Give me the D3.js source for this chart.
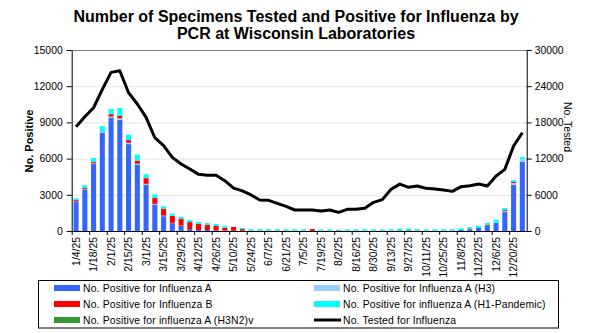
<!DOCTYPE html>
<html>
<head>
<meta charset="utf-8">
<script src="https://cdn.jsdelivr.net/npm/d3@7"></script>
<style>
  body { margin: 0; background: #fff; }
  svg { display: block; font-family: Arial, "Liberation Sans", sans-serif; }
</style>
</head>
<body>
<div id="chart"></div>
<script>
// Weekly flu specimens (Wisconsin labs, PCR): stacked positives + total tested line

const weeks = [
  "1/4/25", "1/11/25", "1/18/25", "1/25/25", "2/1/25", "2/8/25", "2/15/25", "2/22/25",
  "3/1/25", "3/8/25", "3/15/25", "3/22/25", "3/29/25", "4/5/25", "4/12/25", "4/19/25",
  "4/26/25", "5/3/25", "5/10/25", "5/17/25", "5/24/25", "5/31/25", "6/7/25", "6/14/25",
  "6/21/25", "6/28/25", "7/5/25", "7/12/25", "7/19/25", "7/26/25", "8/2/25", "8/9/25",
  "8/16/25", "8/23/25", "8/30/25", "9/6/25", "9/13/25", "9/20/25", "9/27/25", "10/4/25",
  "10/11/25", "10/18/25", "10/25/25", "11/1/25", "11/8/25", "11/15/25", "11/22/25", "11/29/25",
  "12/6/25", "12/13/25", "12/20/25", "12/27/25"
];

const fluA = [
  2400, 3450, 5550, 8150, 9400, 9200, 7200, 5500, 3850, 2200, 1230, 650, 430, 160, 80, 80,
  50, 30, 20, 15, 10, 10, 10, 10, 10, 10, 10, 10, 10, 10, 60, 20,
  20, 20, 20, 20, 20, 60, 60, 30, 30, 30, 30, 30, 80, 110, 250, 440,
  690, 1570, 3840, 5720
];
const fluAH3 = [
  40, 40, 50, 60, 80, 140, 110, 80, 60, 50, 40, 20, 10, 0, 0, 0,
  0, 0, 0, 0, 0, 0, 0, 0, 0, 0, 0, 0, 0, 0, 0, 0,
  0, 0, 0, 0, 0, 0, 0, 0, 0, 0, 0, 0, 0, 0, 0, 0,
  20, 80, 140, 220
];
const fluB = [
  120, 100, 110, 30, 200, 190, 220, 250, 470, 480, 580, 580, 550, 580, 500, 420,
  370, 240, 320, 140, 20, 10, 10, 10, 10, 10, 10, 150, 0, 0, 0, 0,
  0, 0, 0, 0, 0, 0, 0, 0, 0, 0, 0, 0, 0, 50, 0, 60,
  0, 80, 110, 0
];
const fluAH1 = [
  150, 200, 350, 450, 420, 660, 470, 500, 330, 300, 200, 200, 170, 170, 170, 160,
  160, 160, 0, 110, 130, 130, 130, 130, 130, 130, 130, 0, 120, 120, 40, 120,
  120, 120, 120, 120, 120, 150, 150, 120, 120, 120, 120, 120, 150, 160, 170, 170,
  220, 170, 140, 190
];
const fluAH3N2v = new Array(52).fill(0);

const tested = [
  17280, 18940, 20430, 23480, 26290, 26570, 22920, 21050, 18840, 15460, 14140, 12210, 11100, 10270, 9390, 9230,
  9230, 8340, 7100, 6650, 5970, 5140, 5080, 4590, 4090, 3480, 3480, 3480, 3310, 3480, 3090, 3590,
  3590, 3760, 4750, 5200, 6910, 7770, 7240, 7460, 7070, 6960, 6790, 6570, 7350, 7510, 7790, 7460,
  9110, 10220, 14080, 16290
];

const leftTicks = [0, 3000, 6000, 9000, 12000, 15000];
const rightTicks = [0, 6000, 12000, 18000, 24000, 30000];

const seriesKeys = ["a", "h3", "b", "h1", "h3n2v"];
const seriesNames = {
  a: "No. Positive for Influenza A",
  h3: "No. Positive for Influenza A (H3)",
  b: "No. Positive for Influenza B",
  h1: "No. Positive for influenza A (H1-Pandemic)",
  h3n2v: "No. Positive for influenza A (H3N2)v"
};
const colors = {
  a: "#3366ff",
  h3: "#99ccff",
  b: "#ff0000",
  h1: "#00ffff",
  h3n2v: "#339933"
};

const rows = weeks.map((w, i) => ({
  week: w,
  a: fluA[i],
  h3: fluAH3[i],
  b: fluB[i],
  h1: fluAH1[i],
  h3n2v: fluAH3N2v[i],
  tested: tested[i]
}));

const width = 590;
const height = 333;
const margin = { top: 50, right: 63.3, bottom: 102, left: 71.7 };

const svg = d3.select("#chart")
  .append("svg")
  .attr("width", width)
  .attr("height", height);

const x = d3.scaleBand()
  .domain(weeks)
  .range([margin.left, width - margin.right])
  .paddingInner(0.42)
  .paddingOuter(0.21);

const yLeft = d3.scaleLinear()
  .domain([0, 15000])
  .range([height - margin.bottom, margin.top]);

const yRight = d3.scaleLinear()
  .domain([0, 30000])
  .range([height - margin.bottom, margin.top]);

// Gridlines
svg.append("g")
  .selectAll("line")
  .data(leftTicks.slice(1, -1))
  .join("line")
  .attr("x1", margin.left)
  .attr("x2", width - margin.right)
  .attr("y1", d => yLeft(d) + 0.5)
  .attr("y2", d => yLeft(d) + 0.5)
  .attr("stroke", "#e4e4e4")
  .attr("stroke-width", 1);

// top border of plot area
svg.append("line")
  .attr("x1", margin.left)
  .attr("x2", width - margin.right)
  .attr("y1", yLeft(15000) + 0.5)
  .attr("y2", yLeft(15000) + 0.5)
  .attr("stroke", "#808080");

// Stacked bars
const stacked = d3.stack().keys(seriesKeys)(rows);

svg.append("g")
  .selectAll("g")
  .data(stacked)
  .join("g")
  .attr("fill", d => colors[d.key])
  .selectAll("rect")
  .data(d => d)
  .join("rect")
  .attr("x", d => x(d.data.week))
  .attr("width", x.bandwidth())
  .attr("y", d => yLeft(d[1]))
  .attr("height", d => Math.max(0, yLeft(d[0]) - yLeft(d[1])));

// Tested line (right axis)
const line = d3.line()
  .x(d => x(d.week) + x.bandwidth() / 2)
  .y(d => yRight(d.tested));

svg.append("path")
  .datum(rows)
  .attr("fill", "none")
  .attr("stroke", "#000")
  .attr("stroke-width", 3)
  .attr("stroke-linejoin", "round")
  .attr("d", line);

// Left axis
const axisLeft = svg.append("g")
  .attr("transform", `translate(${margin.left},0)`)
  .call(d3.axisLeft(yLeft).tickValues(leftTicks).tickFormat(d3.format("d"))
    .tickSize(5).tickPadding(4).tickSizeOuter(0));
axisLeft.selectAll("text").style("font-size", "10.4px").attr("fill", "#000");

// Right axis
const axisRight = svg.append("g")
  .attr("transform", `translate(${width - margin.right},0)`)
  .call(d3.axisRight(yRight).tickValues(rightTicks).tickFormat(d3.format("d"))
    .tickSize(5).tickPadding(3).tickSizeOuter(0));
axisRight.selectAll("text").style("font-size", "10.4px").attr("fill", "#000");

// Bottom axis: tick every second week boundary, labels every second week
const xBase = height - margin.bottom;
const step = x.step();
const gx = svg.append("g");

gx.append("line")
  .attr("x1", margin.left)
  .attr("x2", width - margin.right)
  .attr("y1", xBase + 0.5)
  .attr("y2", xBase + 0.5)
  .attr("stroke", "#000");

gx.selectAll("line.tick")
  .data(weeks.filter((w, i) => i % 2 === 0))
  .join("line")
  .attr("class", "tick")
  .attr("x1", d => x(d) - x.paddingOuter() * step + 0.5)
  .attr("x2", d => x(d) - x.paddingOuter() * step + 0.5)
  .attr("y1", xBase)
  .attr("y2", xBase + 4)
  .attr("stroke", "#000");

gx.selectAll("text")
  .data(weeks.filter((w, i) => i % 2 === 0))
  .join("text")
  .attr("transform", d => `translate(${x(d) + x.bandwidth() / 2 + 3.5},${xBase + 6}) rotate(-90)`)
  .attr("text-anchor", "end")
  .style("font-size", "10.4px")
  .text(d => d);

// Axis titles
svg.append("text")
  .attr("transform", `translate(33,141) rotate(-90)`)
  .attr("text-anchor", "middle")
  .style("font-size", "11px")
  .style("font-weight", "bold")
  .text("No. Positive");

svg.append("text")
  .attr("transform", `translate(564,127) rotate(90)`)
  .attr("text-anchor", "middle")
  .style("font-size", "10.5px")
  .text("No. Tested");

// Title
const title = svg.append("text")
  .attr("text-anchor", "middle")
  .style("font-size", "16px")
  .style("font-weight", "bold");
title.append("tspan").attr("x", 296).attr("y", 22)
  .text("Number of Specimens Tested and Positive for Influenza by");
title.append("tspan").attr("x", 296).attr("y", 39)
  .text("PCR at Wisconsin Laboratories");

// Legend
const legendItems = [
  { key: "a", col: 0, row: 0 },
  { key: "h3", col: 1, row: 0 },
  { key: "b", col: 0, row: 1 },
  { key: "h1", col: 1, row: 1 },
  { key: "h3n2v", col: 0, row: 2 },
  { key: "tested", col: 1, row: 2 }
];
const legend = svg.append("g");
legend.append("rect")
  .attr("x", 38.5)
  .attr("y", 280.5)
  .attr("width", 520)
  .attr("height", 47.5)
  .attr("fill", "#fff")
  .attr("stroke", "#000");

const colX = [54, 314];
const rowY = [288, 304, 320];

const li = legend.selectAll("g.item")
  .data(legendItems)
  .join("g")
  .attr("class", "item")
  .attr("transform", d => `translate(${colX[d.col]},${rowY[d.row]})`);

li.filter(d => d.key !== "tested")
  .append("rect")
  .attr("x", 0)
  .attr("y", -3)
  .attr("width", 26)
  .attr("height", 6)
  .attr("fill", d => colors[d.key]);

li.filter(d => d.key === "tested")
  .append("line")
  .attr("x1", 0)
  .attr("x2", 27)
  .attr("y1", 0)
  .attr("y2", 0)
  .attr("stroke", "#000")
  .attr("stroke-width", 3);

li.append("text")
  .attr("x", 29)
  .attr("y", 3.8)
  .style("font-size", "10.4px")
  .style("letter-spacing", "0.15px")
  .text(d => d.key === "tested" ? "No. Tested for Influenza" : seriesNames[d.key]);
</script>
</body>
</html>
